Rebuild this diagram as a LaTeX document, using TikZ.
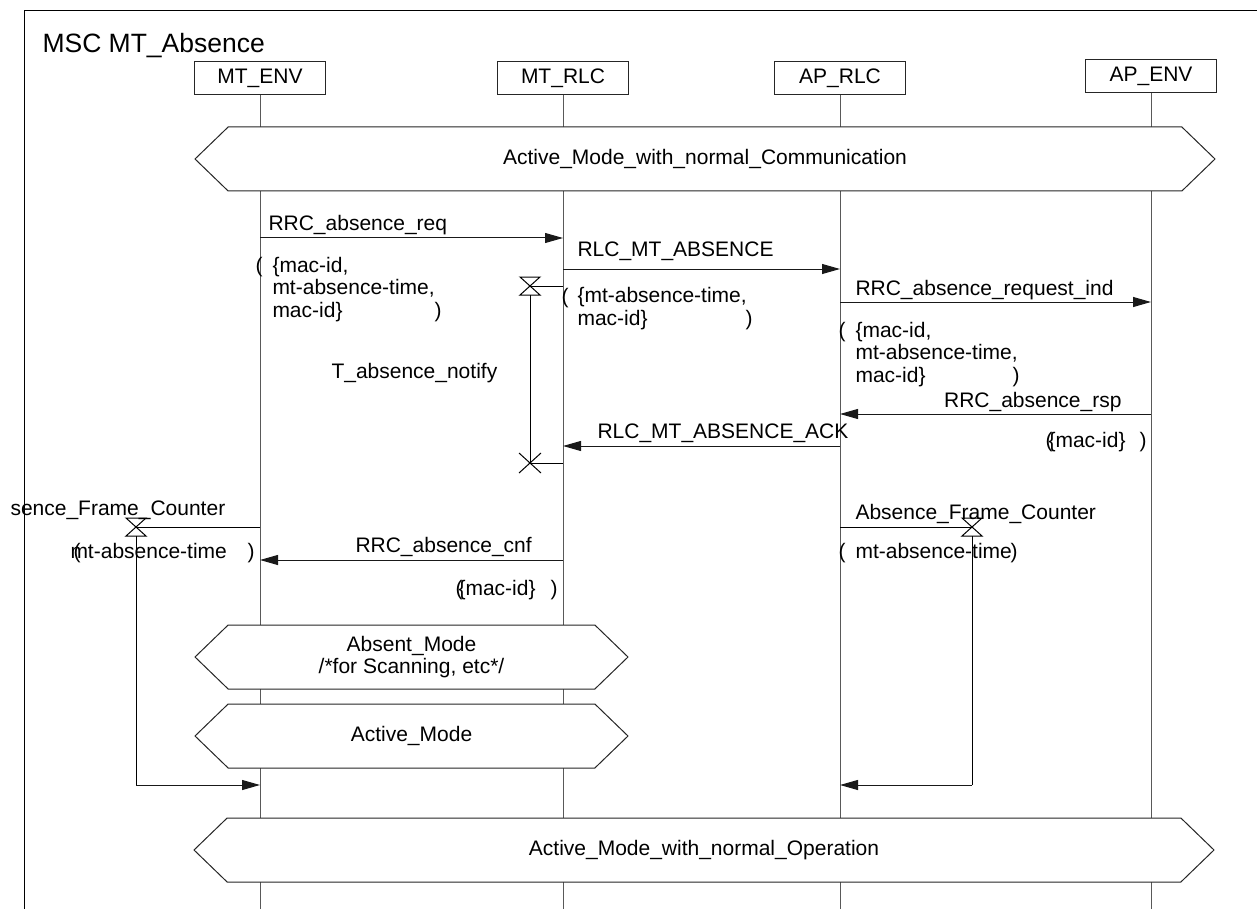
\documentclass[tikz,border=0pt]{standalone}
\usepackage{fontspec}
\setmainfont{Liberation Sans}
\usetikzlibrary{arrows.meta,shapes.symbols}

\begin{document}
\begin{tikzpicture}[x=1pt, y=-1pt, line width=1pt,
  every node/.style={font=\fontsize{21}{22.5}\selectfont},
  head/.style={draw=black!85, minimum width=131pt, minimum height=33pt, inner sep=0pt},
  cond/.style={draw=black!85, fill=white, shape=signal, signal to=west and east, signal pointer angle=88, minimum height=64pt, inner sep=0pt, align=center},
  msg/.style={-{Triangle[length=18pt,width=10pt]}, black!90},
  life/.style={black!65},
  lbl/.style={anchor=base west, inner sep=0pt},
  prm/.style={anchor=base west, inner sep=0pt, align=left},
  tset/.pic={\draw (-10,-9) -- (10,-9) -- (-10,9) -- (10,9) -- cycle;},
  tout/.pic={\draw (-11,-10) -- (11,10) (-11,10) -- (11,-10);}
]
  \useasboundingbox (0,0) rectangle (1257,909);
  \coordinate (bot) at (0,909);

  %% Frame and title
  \draw (24,909) -- (24,11) -- (1257,11);
  \node[lbl, font=\fontsize{26.5}{30}\selectfont] (title) at (42,53) {MSC MT\_Absence};

  %% Instance heads and lifelines
  \node[head] (mtenv) at (260,78) {MT\_ENV};
  \node[head] (mtrlc) at (563,78) {MT\_RLC};
  \node[head] (aprlc) at (840,78) {AP\_RLC};
  \node[head] (apenv) at (1151,76.5) {AP\_ENV};
  \foreach \n in {mtenv,mtrlc,aprlc,apenv}
    \draw[life] (\n.south) -- (\n.south |- bot);

  %% Conditions
  \node[cond, minimum width=1020pt] (comm) at (705,159) {Active\_Mode\_with\_normal\_Communication};
  \node[cond, minimum width=433pt] (absent) at (411.5,657) {Absent\_Mode\\/*for Scanning, etc*/};
  \node[cond, minimum width=433pt] (active) at (411.5,736) {Active\_Mode};
  \node[cond, minimum width=1020pt] (oper) at (704,850) {Active\_Mode\_with\_normal\_Operation};

  %% RRC_absence_req
  \coordinate (req) at (0,238);
  \draw[msg] (mtenv |- req) -- (mtrlc |- req);
  \node[lbl] (req-l) at (268,231) {RRC\_absence\_req};
  \node[lbl] (req-o) at (255,272) {(};
  \node[prm] (req-p) at (272,317) {\{mac-id,\\mt-absence-time,\\mac-id\}};
  \node[lbl] (req-c) at (434,317) {)};

  %% RLC_MT_ABSENCE
  \coordinate (abs) at (0,269);
  \draw[msg] (mtrlc |- abs) -- (aprlc |- abs);
  \node[lbl] (abs-l) at (577,257) {RLC\_MT\_ABSENCE};
  \node[lbl] (abs-o) at (561,303) {(};
  \node[prm] (abs-p) at (577,325) {\{mt-absence-time,\\mac-id\}};
  \node[lbl] (abs-c) at (745,325) {)};

  %% Timer T_absence_notify
  \coordinate (tn-set) at (530,286);
  \coordinate (tn-out) at (530,463);
  \draw (mtrlc |- tn-set) -- (tn-set);
  \pic at (tn-set) {tset};
  \draw ([yshift=-9pt]tn-set) -- (tn-out) -- (mtrlc |- tn-out);
  \pic at (tn-out) {tout};
  \node[lbl] (tn-l) at (331,378) {T\_absence\_notify};

  %% RRC_absence_request_ind
  \coordinate (ind) at (0,302);
  \draw[msg] (aprlc |- ind) -- (apenv |- ind);
  \node[lbl] (ind-l) at (855,295) {RRC\_absence\_request\_ind};
  \node[lbl] (ind-o) at (838,337) {(};
  \node[prm] (ind-p) at (855,382) {\{mac-id,\\mt-absence-time,\\mac-id\}};
  \node[lbl] (ind-c) at (1012,382) {)};

  %% RRC_absence_rsp
  \coordinate (rsp) at (0,414);
  \draw[msg] (apenv |- rsp) -- (aprlc |- rsp);
  \node[lbl, anchor=base east] (rsp-l) at (1122,407) {RRC\_absence\_rsp};
  \node[lbl] (rsp-o) at (1045,447) {(};
  \node[lbl] (rsp-p) at (1048,447) {\{mac-id\}};
  \node[lbl] (rsp-c) at (1139,447) {)};

  %% RLC_MT_ABSENCE_ACK
  \coordinate (ack) at (0,446);
  \draw[msg] (aprlc |- ack) -- (mtrlc |- ack);
  \node[lbl] (ack-l) at (597,438) {RLC\_MT\_ABSENCE\_ACK};

  %% Timer Absence_Frame_Counter on MT_ENV
  \coordinate (fl-set) at (136,527);
  \coordinate (fl-end) at (136,785);
  \draw (mtenv |- fl-set) -- (fl-set);
  \pic at (fl-set) {tset};
  \draw ([yshift=-9pt]fl-set) -- (fl-end);
  \draw[msg] (fl-end) -- (mtenv |- fl-end);
  \node[lbl] (fl-l) at (10,515) {sence\_Frame\_Counter};
  \node[lbl] (fl-p) at (70,558) {mt-absence-time};
  \node[lbl] (fl-o) at (73,558) {(};
  \node[lbl] (fl-c) at (247,558) {)};

  %% RRC_absence_cnf
  \coordinate (cnf) at (0,560);
  \draw[msg] (mtrlc |- cnf) -- (mtenv |- cnf);
  \node[lbl] (cnf-l) at (355,552) {RRC\_absence\_cnf};
  \node[lbl] (cnf-o) at (455,595) {(};
  \node[lbl] (cnf-p) at (458,595) {\{mac-id\}};
  \node[lbl] (cnf-c) at (550,595) {)};

  %% Timer Absence_Frame_Counter on AP_RLC
  \coordinate (fr-set) at (972,527);
  \coordinate (fr-end) at (972,785);
  \draw (aprlc |- fr-set) -- (fr-set);
  \pic at (fr-set) {tset};
  \draw ([yshift=-9pt]fr-set) -- (fr-end);
  \draw[msg] (fr-end) -- (aprlc |- fr-end);
  \node[lbl] (fr-l) at (855,519) {Absence\_Frame\_Counter};
  \node[lbl] (fr-o) at (838,558) {(};
  \node[lbl] (fr-p) at (855,558) {mt-absence-time};
  \node[lbl] (fr-c) at (1010,558) {)};
\end{tikzpicture}
\end{document}
